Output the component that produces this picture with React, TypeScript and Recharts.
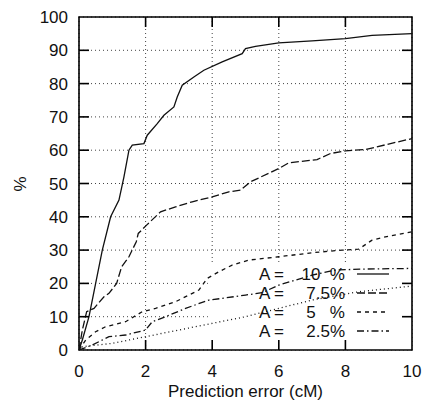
import { LineChart, Line, XAxis, YAxis, CartesianGrid, ReferenceArea } from "recharts"

// plot box (px) — kept fixed so the gnuplot-style inner ticks can be drawn
const PL = 79
const PR = 412
const PT = 17
const PB = 350

const xTicks = [0, 2, 4, 6, 8, 10]
const yTicks = [0, 10, 20, 30, 40, 50, 60, 70, 80, 90, 100]

// [prediction error (cM), %]
const a10 = [
  [0, 0], [0.1, 3], [0.3, 10], [0.5, 20], [0.7, 30], [0.95, 40], [1.2, 45], [1.35, 52],
  [1.5, 60], [1.6, 61.5], [1.95, 62], [2.05, 64.5], [2.35, 68], [2.55, 70.5], [2.85, 73],
  [2.95, 76], [3.1, 79.5], [3.45, 82], [3.75, 84], [4.3, 86.5], [4.9, 89], [5, 90.5],
  [5.3, 91.2], [6, 92.2], [7, 92.8], [8, 93.5], [8.8, 94.5], [10, 95],
]
const a75 = [
  [0, 0], [0.1, 6], [0.23, 11.5], [0.45, 12.5], [0.75, 16], [0.9, 17], [1.13, 20], [1.28, 25],
  [1.5, 28], [1.72, 32.5], [1.78, 35], [2.03, 37.5], [2.45, 41.5], [2.9, 43], [3.4, 44.5],
  [4, 46], [4.5, 47.5], [4.85, 48], [5.15, 50.5], [6, 54.5], [6.3, 56.2], [7.15, 57.2],
  [7.55, 59], [8, 59.8], [8.6, 60.2], [10, 63.5],
]
const a5 = [
  [0, 0], [0.2, 3], [0.5, 5.5], [0.8, 7], [1.4, 8.5], [1.9, 11.5], [2.3, 12.5], [2.9, 14.5],
  [3.6, 18], [3.85, 21.5], [4.2, 23.5], [4.6, 25.5], [5.1, 27], [6, 28], [7, 29.2], [7.9, 30],
  [8.4, 30.3], [8.8, 33], [9.3, 34.2], [10, 35.5],
]
const a25 = [
  [0, 0], [0.4, 1.5], [0.9, 4], [1.4, 4.5], [2, 6], [2.2, 8.5], [2.6, 10], [3.2, 12.5],
  [3.9, 15], [4.3, 15.5], [5, 16.5], [5.5, 17.2], [6, 19.5], [7, 22.5], [7.7, 24],
  [8.5, 24.3], [10, 24.5],
]
const unlabeled = [
  [0, 0], [0.1, 1], [1, 2], [2, 4], [3, 6], [4, 8], [5, 10], [6, 12.5], [7, 15],
  [8.4, 17.5], [10, 19.2],
]

const series = [
  { key: "a10", pts: a10, value: "10  %", dash: undefined, legend: true },
  { key: "a75", pts: a75, value: "7.5%", dash: "8 3", legend: true },
  { key: "a5", pts: a5, value: "5   %", dash: "4 4", legend: true },
  { key: "a25", pts: a25, value: "2.5%", dash: "7 3 1.5 3", legend: true },
  { key: "u", pts: unlabeled, value: "", dash: "1 3", legend: false },
]

const font = "'Liberation Sans', Arial, Helvetica, sans-serif"

const XTick = ({ x, payload }) => {
  const v = payload.value
  const inner = v > 0 && v < 10
  return (
    <g>
      {inner && <line x1={x} x2={x} y1={PB} y2={PB - 10} stroke="#000" strokeWidth={1.6} />}
      {inner && <line x1={x} x2={x} y1={PT} y2={PT + 10} stroke="#000" strokeWidth={1.6} />}
      <text x={x} y={377} textAnchor="middle" fontSize={17} fontFamily={font} fill="#111">{v}</text>
    </g>
  )
}

const YTick = ({ y, payload }) => {
  const v = payload.value
  const inner = v > 0 && v < 100
  return (
    <g>
      {inner && <line x1={PL} x2={PL + 10} y1={y} y2={y} stroke="#000" strokeWidth={1.6} />}
      {inner && <line x1={PR} x2={PR - 10} y1={y} y2={y} stroke="#000" strokeWidth={1.6} />}
      <text x={68} y={y + 6} textAnchor="end" fontSize={17} fontFamily={font} fill="#111">{v}</text>
    </g>
  )
}

const Legend = () => {
  const rows = series.filter(s => s.legend)
  return (
    <svg width={422} height={406} style={{ position: "absolute", left: 0, top: 0, pointerEvents: "none" }}>
      {rows.map((s, i) => {
        const cy = 274 + i * 19
        return (
          <g key={s.key}>
            <text x={259} y={cy + 6} fontSize={17} fontFamily={font} fill="#111">A =</text>
            <text x={345} y={cy + 6} textAnchor="end" fontSize={17} fontFamily={font} fill="#111" xmlSpace="preserve" style={{ whiteSpace: "pre" }}>{s.value}</text>
            <line x1={357} x2={389} y1={cy} y2={cy} stroke="#111" strokeWidth={1.3} strokeDasharray={s.dash} />
          </g>
        )
      })}
    </svg>
  )
}

export default function App() {
  return (
    <div style={{ position: "absolute", left: 0, top: 0, width: 422, height: 406, background: "#fff" }}>
      <LineChart width={422} height={406} margin={{ top: PT, right: 422 - PR, bottom: 0, left: 0 }}>
        <CartesianGrid stroke="#444" strokeDasharray="1 3" />
        <ReferenceArea x1={3.87} x2={10} y1={0} y2={25.5} fill="#fff" fillOpacity={1} stroke="none" />
        {series.map(s => (
          <Line
            key={s.key}
            data={s.pts.map(([x, y]) => ({ x, y }))}
            dataKey="y"
            type="linear"
            stroke="#111"
            strokeWidth={1.3}
            strokeDasharray={s.dash}
            dot={false}
            activeDot={false}
            isAnimationActive={false}
          />
        ))}
        <ReferenceArea x1={0} x2={10} y1={0} y2={100} fill="none" stroke="#000" strokeWidth={1.6} />
        <XAxis
          dataKey="x"
          type="number"
          domain={[0, 10]}
          ticks={xTicks}
          allowDataOverflow
          height={PB > 0 ? 406 - PB : 56}
          axisLine={false}
          tickLine={false}
          tick={XTick}
          interval={0}
          label={{
            content: () => (
              <text x={(PL + PR) / 2} y={397} textAnchor="middle" fontSize={17} fontFamily={font} fill="#111">
                Prediction error (cM)
              </text>
            ),
          }}
        />
        <YAxis
          type="number"
          domain={[0, 100]}
          ticks={yTicks}
          allowDataOverflow
          width={PL}
          axisLine={false}
          tickLine={false}
          tick={YTick}
          interval={0}
          label={{
            content: () => (
              <text x={26} y={184} textAnchor="middle" fontSize={17} fontFamily={font} fill="#111" transform="rotate(-90 26 184)">
                %
              </text>
            ),
          }}
        />
      </LineChart>
      <Legend />
    </div>
  )
}
